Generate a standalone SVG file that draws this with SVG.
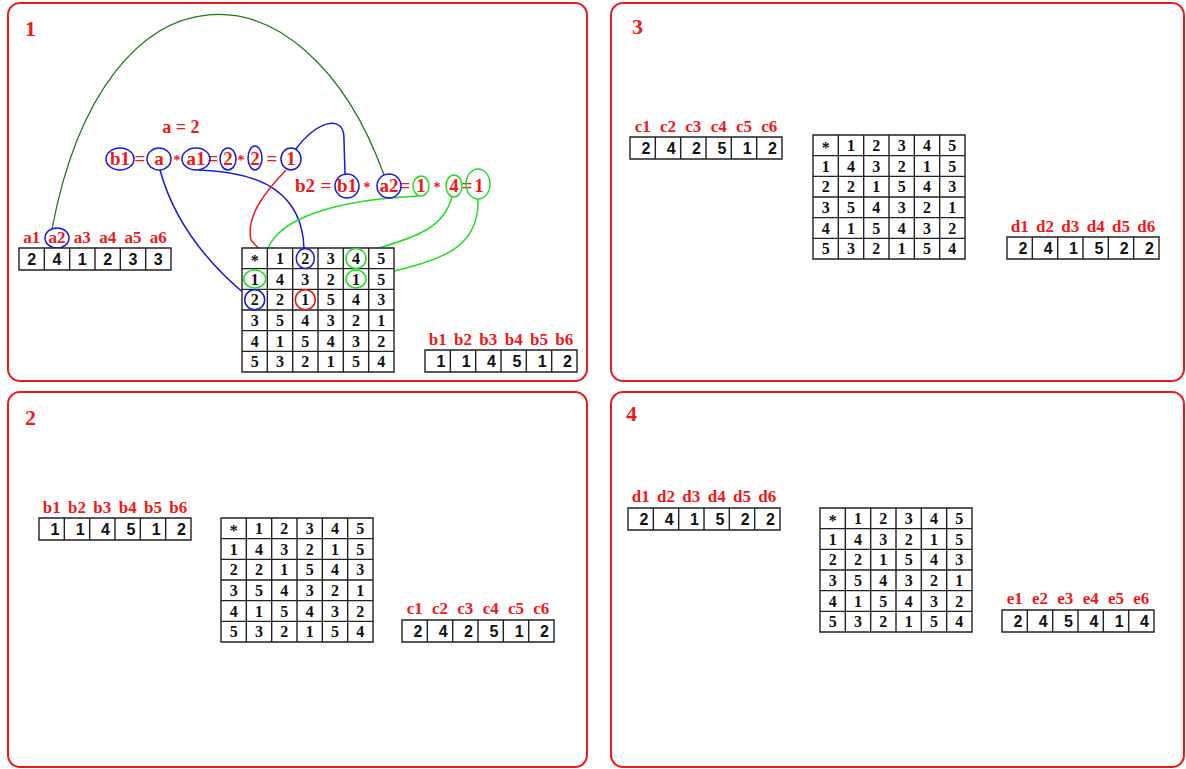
<svg xmlns="http://www.w3.org/2000/svg" width="1186" height="769" viewBox="0 0 1186 769">
<defs>
<style>
.panel{fill:#fff;stroke:#f01818;stroke-width:2}
.pl{font-family:"Liberation Serif",serif;font-weight:bold;font-size:22px;fill:#f01818}
.lbl{font-family:"Liberation Serif",serif;font-weight:bold;font-size:17px;fill:#f01818;text-anchor:middle}
.fm{font-family:"Liberation Serif",serif;font-weight:bold;font-size:19px;fill:#f01818;text-anchor:middle}
.grid{fill:#fff;stroke:#222;stroke-width:1.4}
.tv{font-family:"Liberation Serif",serif;font-weight:bold;font-size:16px;fill:#111;text-anchor:middle}
.av{font-family:"Liberation Sans",sans-serif;font-weight:bold;font-size:16px;fill:#111;text-anchor:end}
.avc{font-family:"Liberation Sans",sans-serif;font-weight:bold;font-size:16px;fill:#111;text-anchor:middle}
.cb{fill:none;stroke:#1818e0;stroke-width:1.5}
.cg{fill:none;stroke:#22dd22;stroke-width:1.5}
.cr{fill:none;stroke:#f01818;stroke-width:1.5}
.cd{fill:none;stroke:#1f7a1f;stroke-width:1.3}
</style>
<g id="tbl">
<path class="grid" d="M0 0H152V124H0Z M25.33 0V124 M50.67 0V124 M76 0V124 M101.33 0V124 M126.67 0V124 M0 20.67H152 M0 41.33H152 M0 62H152 M0 82.67H152 M0 103.33H152"/>
<text class="tv" x="12.7" y="18">*</text><text class="tv" x="38" y="16">1</text><text class="tv" x="63.3" y="16">2</text><text class="tv" x="88.7" y="16">3</text><text class="tv" x="114" y="16">4</text><text class="tv" x="139.3" y="16">5</text>
<text class="tv" x="12.7" y="36.7">1</text><text class="tv" x="38" y="36.7">4</text><text class="tv" x="63.3" y="36.7">3</text><text class="tv" x="88.7" y="36.7">2</text><text class="tv" x="114" y="36.7">1</text><text class="tv" x="139.3" y="36.7">5</text>
<text class="tv" x="12.7" y="57.3">2</text><text class="tv" x="38" y="57.3">2</text><text class="tv" x="63.3" y="57.3">1</text><text class="tv" x="88.7" y="57.3">5</text><text class="tv" x="114" y="57.3">4</text><text class="tv" x="139.3" y="57.3">3</text>
<text class="tv" x="12.7" y="78">3</text><text class="tv" x="38" y="78">5</text><text class="tv" x="63.3" y="78">4</text><text class="tv" x="88.7" y="78">3</text><text class="tv" x="114" y="78">2</text><text class="tv" x="139.3" y="78">1</text>
<text class="tv" x="12.7" y="98.7">4</text><text class="tv" x="38" y="98.7">1</text><text class="tv" x="63.3" y="98.7">5</text><text class="tv" x="88.7" y="98.7">4</text><text class="tv" x="114" y="98.7">3</text><text class="tv" x="139.3" y="98.7">2</text>
<text class="tv" x="12.7" y="119.3">5</text><text class="tv" x="38" y="119.3">3</text><text class="tv" x="63.3" y="119.3">2</text><text class="tv" x="88.7" y="119.3">1</text><text class="tv" x="114" y="119.3">5</text><text class="tv" x="139.3" y="119.3">4</text>
</g>
<path id="arr" class="grid" d="M0 0H152V22H0Z M25.33 0V22 M50.67 0V22 M76 0V22 M101.33 0V22 M126.67 0V22"/>
</defs>

<g id="panel1">
<rect class="panel" x="8" y="3" width="579" height="378" rx="12"/>
<text class="pl" x="25" y="36">1</text>
</g>
<g id="panel3">
<rect class="panel" x="611" y="3" width="573" height="378" rx="12"/>
<text class="pl" x="632" y="34">3</text>
</g>
<g id="panel2">
<rect class="panel" x="8" y="392" width="579" height="375" rx="12"/>
<text class="pl" x="25" y="425">2</text>
</g>
<g id="panel4">
<rect class="panel" x="611" y="392" width="573" height="375" rx="12"/>
<text class="pl" x="626" y="421">4</text>
</g>

<g id="connectors">
<path class="cd" d="M52 229 C105 -50 305 -45 384 175"/>
<path class="cb" d="M160 170 C175 225 210 265 246 295"/>
<path class="cb" d="M198 170 C265 172 302 195 304 248"/>
<path class="cb" d="M296 149 C315 122 345 112 344 140 L345 174"/>
<path class="cr" d="M286 170 C262 195 246 218 251 240 L297 291"/>
<path class="cg" d="M419 196 C330 200 280 220 268 248 L256 270"/>
<path class="cg" d="M452 197 C442 235 400 240 364 253"/>
<path class="cg" d="M478 199 C480 255 430 262 365 278"/>
</g>

<g id="formula">
<text class="fm" x="181" y="133" style="font-size:18px">a = 2</text>
<text class="fm" x="120" y="165">b1</text><text class="fm" x="140" y="165">=</text>
<text class="fm" x="159" y="165">a</text><text class="fm" x="177" y="165" style="font-size:14px">*</text>
<text class="fm" x="196" y="165">a1</text><text class="fm" x="213" y="165">=</text>
<text class="fm" x="228" y="165">2</text><text class="fm" x="241" y="165" style="font-size:14px">*</text>
<text class="fm" x="255" y="165">2</text><text class="fm" x="272" y="165">=</text>
<text class="fm" x="291" y="165">1</text>
<text class="fm" x="305" y="192">b2</text><text class="fm" x="326" y="192">=</text>
<text class="fm" x="347" y="192">b1</text><text class="fm" x="367" y="192" style="font-size:14px">*</text>
<text class="fm" x="389" y="192">a2</text><text class="fm" x="405" y="192">=</text>
<text class="fm" x="421" y="192">1</text><text class="fm" x="437" y="192" style="font-size:14px">*</text>
<text class="fm" x="454" y="192">4</text><text class="fm" x="467" y="192">=</text>
<text class="fm" x="479" y="192">1</text>
<ellipse class="cb" cx="120" cy="159" rx="14" ry="11"/>
<ellipse class="cb" cx="159" cy="159" rx="12" ry="11"/>
<ellipse class="cb" cx="196" cy="159" rx="14" ry="11"/>
<ellipse class="cb" cx="228" cy="159" rx="8" ry="11"/>
<ellipse class="cb" cx="255" cy="158" rx="7" ry="12"/>
<ellipse class="cb" cx="291" cy="159" rx="10" ry="11"/>
<ellipse class="cb" cx="347" cy="186" rx="12" ry="12"/>
<ellipse class="cb" cx="389" cy="186" rx="12" ry="12"/>
<ellipse class="cg" cx="421" cy="186" rx="8" ry="10"/>
<ellipse class="cg" cx="454" cy="186" rx="8" ry="11"/>
<ellipse class="cg" cx="478" cy="184" rx="12" ry="15"/>
</g>

<g id="array-a">
<text class="lbl" x="31.7" y="243">a1</text><text class="lbl" x="57" y="243">a2</text><text class="lbl" x="82.3" y="243">a3</text><text class="lbl" x="107.7" y="243">a4</text><text class="lbl" x="133" y="243">a5</text><text class="lbl" x="158.3" y="243">a6</text>
<ellipse class="cb" cx="57" cy="238" rx="12" ry="10"/>
<use href="#arr" x="19" y="248"/>
<text class="avc" x="31.7" y="265">2</text><text class="avc" x="57" y="265">4</text><text class="avc" x="82.3" y="265">1</text><text class="avc" x="107.7" y="265">2</text><text class="avc" x="133" y="265">3</text><text class="avc" x="158.3" y="265">3</text>
</g>

<g id="table1">
<use href="#tbl" x="242" y="248"/>
<ellipse class="cb" cx="305.3" cy="258.5" rx="9" ry="10"/>
<ellipse class="cg" cx="356" cy="258.5" rx="10" ry="10"/>
<ellipse class="cg" cx="254.7" cy="279" rx="11" ry="9"/>
<ellipse class="cg" cx="356" cy="279" rx="10" ry="9"/>
<ellipse class="cb" cx="254.7" cy="299.7" rx="10" ry="10"/>
<ellipse class="cr" cx="305.3" cy="299.7" rx="10" ry="10"/>
</g>

<g id="array-b1">
<text class="lbl" x="437.7" y="345">b1</text><text class="lbl" x="463" y="345">b2</text><text class="lbl" x="488.3" y="345">b3</text><text class="lbl" x="513.7" y="345">b4</text><text class="lbl" x="539" y="345">b5</text><text class="lbl" x="564.3" y="345">b6</text>
<use href="#arr" x="425" y="350"/>
<text class="av" x="445.3" y="367">1</text><text class="av" x="470.7" y="367">1</text><text class="av" x="496" y="367">4</text><text class="av" x="521.3" y="367">5</text><text class="av" x="546.7" y="367">1</text><text class="av" x="572" y="367">2</text>
</g>

<g id="array-b2">
<text class="lbl" x="51.7" y="513">b1</text><text class="lbl" x="77" y="513">b2</text><text class="lbl" x="102.3" y="513">b3</text><text class="lbl" x="127.7" y="513">b4</text><text class="lbl" x="153" y="513">b5</text><text class="lbl" x="178.3" y="513">b6</text>
<use href="#arr" x="39" y="518"/>
<text class="av" x="59.3" y="535">1</text><text class="av" x="84.7" y="535">1</text><text class="av" x="110" y="535">4</text><text class="av" x="135.3" y="535">5</text><text class="av" x="160.7" y="535">1</text><text class="av" x="186" y="535">2</text>
</g>
<g id="table2"><use href="#tbl" x="221" y="518"/></g>
<g id="array-c2">
<text class="lbl" x="414.7" y="614">c1</text><text class="lbl" x="440" y="614">c2</text><text class="lbl" x="465.3" y="614">c3</text><text class="lbl" x="490.7" y="614">c4</text><text class="lbl" x="516" y="614">c5</text><text class="lbl" x="541.3" y="614">c6</text>
<use href="#arr" x="402" y="620"/>
<text class="av" x="422.3" y="637">2</text><text class="av" x="447.7" y="637">4</text><text class="av" x="473" y="637">2</text><text class="av" x="498.3" y="637">5</text><text class="av" x="523.7" y="637">1</text><text class="av" x="549" y="637">2</text>
</g>

<g id="array-c3">
<text class="lbl" x="642.7" y="132">c1</text><text class="lbl" x="668" y="132">c2</text><text class="lbl" x="693.3" y="132">c3</text><text class="lbl" x="718.7" y="132">c4</text><text class="lbl" x="744" y="132">c5</text><text class="lbl" x="769.3" y="132">c6</text>
<use href="#arr" x="630" y="137"/>
<text class="av" x="650.3" y="154">2</text><text class="av" x="675.7" y="154">4</text><text class="av" x="701" y="154">2</text><text class="av" x="726.3" y="154">5</text><text class="av" x="751.7" y="154">1</text><text class="av" x="777" y="154">2</text>
</g>
<g id="table3"><use href="#tbl" x="813" y="135"/></g>
<g id="array-d3">
<text class="lbl" x="1019.7" y="232">d1</text><text class="lbl" x="1045" y="232">d2</text><text class="lbl" x="1070.3" y="232">d3</text><text class="lbl" x="1095.7" y="232">d4</text><text class="lbl" x="1121" y="232">d5</text><text class="lbl" x="1146.3" y="232">d6</text>
<use href="#arr" x="1007" y="237"/>
<text class="av" x="1027.3" y="254">2</text><text class="av" x="1052.7" y="254">4</text><text class="av" x="1078" y="254">1</text><text class="av" x="1103.3" y="254">5</text><text class="av" x="1128.7" y="254">2</text><text class="av" x="1154" y="254">2</text>
</g>

<g id="array-d4">
<text class="lbl" x="640.7" y="502">d1</text><text class="lbl" x="666" y="502">d2</text><text class="lbl" x="691.3" y="502">d3</text><text class="lbl" x="716.7" y="502">d4</text><text class="lbl" x="742" y="502">d5</text><text class="lbl" x="767.3" y="502">d6</text>
<use href="#arr" x="628" y="508"/>
<text class="av" x="648.3" y="525">2</text><text class="av" x="673.7" y="525">4</text><text class="av" x="699" y="525">1</text><text class="av" x="724.3" y="525">5</text><text class="av" x="749.7" y="525">2</text><text class="av" x="775" y="525">2</text>
</g>
<g id="table4"><use href="#tbl" x="820" y="508"/></g>
<g id="array-e4">
<text class="lbl" x="1014.7" y="604">e1</text><text class="lbl" x="1040" y="604">e2</text><text class="lbl" x="1065.3" y="604">e3</text><text class="lbl" x="1090.7" y="604">e4</text><text class="lbl" x="1116" y="604">e5</text><text class="lbl" x="1141.3" y="604">e6</text>
<use href="#arr" x="1002" y="610"/>
<text class="av" x="1022.3" y="627">2</text><text class="av" x="1047.7" y="627">4</text><text class="av" x="1073" y="627">5</text><text class="av" x="1098.3" y="627">4</text><text class="av" x="1123.7" y="627">1</text><text class="av" x="1149" y="627">4</text>
</g>
</svg>
